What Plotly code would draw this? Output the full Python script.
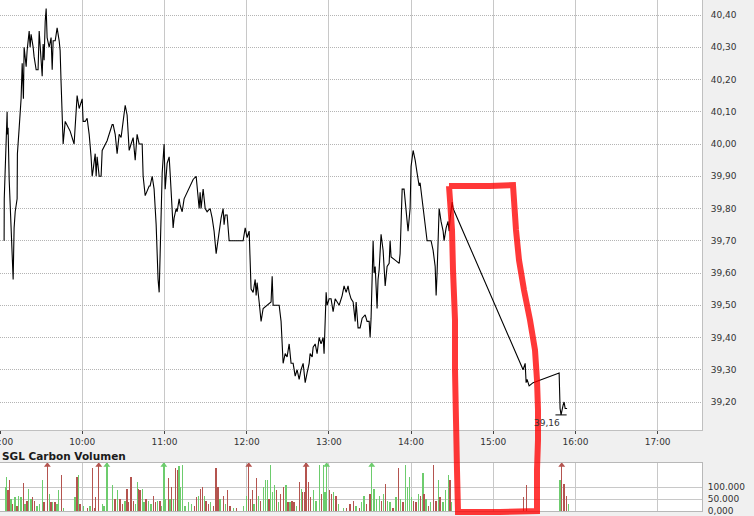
import plotly.graph_objects as go
import pandas as pd

BASE = pd.Timestamp("2024-01-02 09:00")

# ---- price data (minutes after 09:00, price in EUR) ----
price_minutes = [2.9,3.0,5.1,5.3,5.8,6.6,8.0,8.8,9.5,10.2,11.0,12.4,12.6,13.9,15.3,16.1,16.8,17.0,17.5,19.0,
    19.7,21.2,21.9,22.6,24.1,24.8,26.3,27.7,28.5,29.9,30.7,31.4,32.1,32.9,33.6,34.3,35.8,37.2,38.0,38.7,
    40.2,40.9,41.6,43.1,43.8,44.5,45.3,46.0,47.5,51.1,54.0,55.5,56.2,57.7,59.1,59.9,60.6,62.1,63.5,65.0,
    66.4,67.2,67.9,69.4,70.1,70.8,72.3,73.7,74.5,78.1,81.8,82.5,84.0,85.4,86.9,88.3,89.8,91.3,92.7,94.2,
    95.6,97.1,98.6,100.0,101.5,103.7,104.4,105.9,108.8,109.5,111.0,111.7,112.4,113.9,114.6,115.3,116.1,116.8,117.5,118.3,
    119.7,120.5,121.9,123.4,124.1,124.8,126.3,127.0,128.5,129.2,130.7,131.4,132.9,134.3,136.5,138.7,140.9,143.1,143.8,145.3,
    146.0,146.7,148.2,148.9,149.7,151.1,153.3,154.8,156.2,157.7,159.1,159.9,161.3,162.8,163.5,164.3,165.7,167.2,177.4,178.9,
    180.3,181.8,182.5,183.2,184.7,186.2,186.9,187.6,189.1,190.5,192.0,194.9,197.8,198.6,199.3,203.7,205.1,206.6,208.1,209.5,
    211.0,212.4,213.9,215.4,216.8,218.3,219.7,221.2,222.7,224.1,225.6,226.3,227.8,228.5,230.0,231.4,232.9,234.3,235.8,236.5,
    237.3,238.0,238.7,240.2,241.6,243.1,244.6,247.5,249.7,251.1,252.6,254.0,254.8,256.2,257.7,259.2,259.9,261.3,262.8,264.3,
    266.5,267.9,269.4,270.1,270.8,272.3,273.0,273.8,275.2,275.9,276.7,278.1,279.6,280.3,281.1,282.5,284.0,284.7,285.4,288.4,
    291.3,292.0,293.5,294.9,296.4,297.8,299.3,300.0,301.5,303.0,304.4,305.9,306.6,308.1,308.8,310.3,311.7,314.6,316.1,317.6,
    318.3,319.0,320.5,321.9,323.4,324.1,325.6,327.0,327.8,328.5,330.0,330.7,381.8,383.3,384.0,384.7,386.2,389.1,408.1,408.8,
    409.5,411.0,411.7,412.5,413.9]
price_values = [39.70,39.83,40.10,40.03,40.05,39.89,39.74,39.62,39.58,39.74,39.79,39.83,39.97,40.05,40.14,40.25,40.18,40.14,40.30,40.24,
    40.29,40.35,40.30,40.34,40.30,40.27,40.23,40.23,40.35,40.26,40.21,40.31,40.26,40.38,40.42,40.33,40.30,40.33,40.23,40.32,
    40.32,40.34,40.36,40.32,40.29,40.19,40.08,40.00,40.07,40.04,40.00,40.11,40.15,40.11,40.13,40.14,40.07,40.07,40.08,40.03,
    39.96,39.90,39.92,39.97,39.90,39.96,39.90,39.90,39.98,40.01,40.06,40.06,40.03,39.97,40.03,40.02,40.07,40.12,40.09,39.98,
    40.00,40.02,39.95,40.03,40.00,40.00,39.90,39.84,39.87,39.87,39.90,39.88,39.86,39.75,39.63,39.58,39.54,39.69,39.80,39.91,
    40.00,39.86,39.94,39.96,39.91,39.84,39.74,39.77,39.80,39.79,39.83,39.81,39.79,39.83,39.85,39.87,39.89,39.90,39.86,39.80,
    39.85,39.80,39.86,39.83,39.80,39.79,39.80,39.77,39.73,39.66,39.71,39.73,39.77,39.80,39.75,39.78,39.78,39.70,39.70,39.74,
    39.71,39.73,39.65,39.55,39.54,39.58,39.53,39.57,39.51,39.45,39.49,39.50,39.51,39.59,39.50,39.50,39.45,39.32,39.35,39.34,
    39.38,39.32,39.32,39.28,39.30,39.27,39.30,39.32,39.26,39.29,39.32,39.35,39.34,39.37,39.38,39.35,39.40,39.38,39.40,39.35,
    39.49,39.54,39.50,39.52,39.52,39.48,39.52,39.50,39.53,39.56,39.54,39.56,39.54,39.52,39.51,39.45,39.51,39.43,39.43,39.46,
    39.47,39.45,39.45,39.40,39.46,39.70,39.60,39.62,39.49,39.58,39.61,39.72,39.67,39.61,39.56,39.62,39.63,39.70,39.65,39.64,
    39.63,39.66,39.86,39.86,39.79,39.73,39.80,39.93,39.98,39.95,39.91,39.87,39.88,39.83,39.80,39.75,39.70,39.70,39.67,39.62,
    39.53,39.60,39.80,39.76,39.73,39.70,39.74,39.76,39.73,39.77,39.82,39.80,39.30,39.32,39.26,39.27,39.25,39.26,39.29,39.18,
    39.16,39.19,39.20,39.18,39.18]
assert len(price_minutes) == len(price_values), (len(price_minutes), len(price_values))

low_minute = 409.5
low_value = 39.16
low_label = "39,16"

# ---- volume data (minutes after 09:00, shares, 1 = up tick / 0 = down tick) ----
vol_minutes = [3.9,4.6,5.8,6.8,7.8,8.8,10.9,12.2,13.6,15.1,17.0,18.2,19.5,20.9,22.4,23.4,25.3,26.8,28.7,30.9,
    32.1,34.5,36.0,37.0,38.4,40.1,41.4,42.6,44.8,46.2,54.7,56.0,57.4,58.4,60.8,63.7,65.7,67.2,68.9,69.8,
    72.0,74.5,75.9,77.9,82.2,83.9,85.6,87.6,89.5,91.2,92.5,93.7,95.4,97.3,99.0,100.2,101.2,102.2,103.7,105.1,
    106.6,108.5,110.0,111.9,113.4,114.8,116.8,117.8,119.5,120.7,122.9,124.1,125.1,126.5,128.0,129.4,130.7,131.9,133.3,135.0,
    137.5,139.9,141.8,143.5,145.0,146.5,147.9,149.4,150.4,152.1,153.8,155.7,157.7,159.1,160.6,163.0,164.5,165.9,167.9,170.3,
    172.7,177.6,180.0,181.5,182.9,184.4,185.4,187.3,188.8,190.3,192.2,193.7,195.1,196.3,197.6,199.0,200.5,201.9,203.4,204.9,
    206.8,208.8,210.2,211.7,213.1,214.6,216.5,218.5,219.9,220.9,222.4,223.4,225.1,226.8,228.7,230.7,233.1,234.5,236.0,237.2,
    238.4,240.4,242.1,243.3,245.3,247.0,250.6,253.0,255.5,257.9,259.8,262.3,264.0,265.7,267.6,270.1,271.3,273.0,274.9,276.9,
    278.6,279.8,281.3,282.7,284.7,286.7,289.1,290.8,292.5,294.0,295.9,297.4,298.8,300.3,301.7,303.7,305.4,307.1,308.6,309.5,
    311.0,312.7,314.4,316.3,318.3,320.0,321.2,323.2,325.1,327.3,328.5,329.7,382.0,384.5,408.8,410.0,411.7,413.7,414.9]
vol_values = [100000,142900,85700,128600,50000,28600,57100,21400,64300,57100,117100,28600,42900,92900,50000,57100,42900,21400,28600,128600,
    35700,260000,71400,35700,35700,35700,28600,85700,150000,14300,57100,142900,150000,28600,21400,14300,21400,178600,14300,57100,
    260000,28600,21400,260000,107100,50000,85700,50000,28600,42900,92900,35700,142900,42900,28600,121400,92900,85700,92900,35700,
    50000,42900,28600,64300,35700,42900,42900,21400,260000,50000,135700,50000,100000,50000,178600,171400,185700,100000,192900,21400,
    35700,28600,21400,57100,64300,92900,100000,64300,42900,28600,35700,21400,178600,100000,50000,64300,28600,85700,21400,14300,
    14300,21400,64300,260000,50000,85700,28600,135700,64300,42900,100000,128600,128600,50000,192900,78600,107100,85700,35700,71400,
    100000,107100,35700,35700,42900,35700,21400,121400,92900,78600,78600,260000,121400,57100,85700,42900,192900,71400,192900,78600,
    260000,85700,71400,78600,64300,28600,14300,14300,28600,42900,21400,14300,35700,64300,28600,71400,260000,92900,50000,64300,
    42900,71400,114300,42900,35700,14300,57100,178600,50000,35700,192900,100000,142900,57100,42900,35700,71400,64300,157100,71400,
    50000,21400,35700,192900,42900,128600,57100,35700,85700,150000,128600,35700,57100,107100,128600,260000,114300,64300,28600]
vol_up = [1,1,0,0,1,0,1,0,1,1,0,1,0,1,1,0,0,1,1,1,
    0,0,1,0,1,0,1,1,0,1,1,0,1,0,1,0,1,0,0,0,
    0,1,1,1,1,0,1,0,0,1,0,0,0,0,1,1,0,0,1,1,
    0,1,1,0,0,1,0,1,1,1,0,1,0,1,0,0,1,1,1,1,
    1,1,0,0,1,0,0,1,0,0,1,0,0,0,1,0,1,0,0,1,
    0,1,1,0,0,0,1,0,1,0,1,1,1,0,1,1,1,0,1,0,
    0,1,0,1,0,0,1,0,1,0,0,0,0,0,1,1,1,0,1,1,
    1,0,0,1,0,1,1,0,0,0,1,0,1,1,0,0,1,1,1,1,
    0,1,0,1,1,0,1,0,1,0,1,1,1,1,0,0,1,0,1,0,
    1,0,1,0,0,1,0,1,1,1,0,1,0,0,1,0,0,0,1]
assert len(vol_minutes) == len(vol_values) == len(vol_up), (len(vol_minutes), len(vol_values), len(vol_up))

hour_ticks = ["09:00", "10:00", "11:00", "12:00", "13:00", "14:00", "15:00", "16:00", "17:00"]
price_ticks = [39.20, 39.30, 39.40, 39.50, 39.60, 39.70, 39.80, 39.90, 40.00, 40.10, 40.20, 40.30, 40.40]
vol_ticks = [0, 50000, 100000]
vol_tick_text = ["0,000", "50.000", "100.000"]
volume_title = "SGL Carbon Volumen"

# ---- styling ----
W, H = 754, 516
GREEN = "#6dcc6d"
RED = "#b4544f"
GRID = "#c8c8c8"
TXT = "#333333"
FONT = "DejaVu Sans"
VOL_MAX = 200000
X_START_MIN = -0.1
X_END_MIN = 512.4
Y_LO, Y_HI = 39.1132, 40.4465

def to_ts(mins):
    return [BASE + pd.Timedelta(minutes=m) for m in mins]

px_t = to_ts(price_minutes)
vx_t = to_ts(vol_minutes)
xrange = [BASE + pd.Timedelta(minutes=X_START_MIN), BASE + pd.Timedelta(minutes=X_END_MIN)]
hour_vals = [pd.Timestamp(f"2024-01-02 {h}") for h in hour_ticks]

fig = go.Figure()
fig.add_trace(go.Scatter(x=px_t, y=price_values, mode="lines",
                         line=dict(color="#000000", width=1.1), xaxis="x", yaxis="y",
                         hoverinfo="skip"))
low_t = BASE + pd.Timedelta(minutes=low_minute)
fig.add_trace(go.Scatter(x=[low_t], y=[low_value], mode="markers",
                         marker=dict(symbol="line-ew", size=8, line=dict(color="#000", width=1)),
                         xaxis="x", yaxis="y", cliponaxis=False))

colors = [GREEN if u else RED for u in vol_up]
fig.add_trace(go.Bar(x=vx_t, y=vol_values, marker=dict(color=colors, line=dict(width=0)),
                     width=60000, xaxis="x2", yaxis="y2"))
over_x = [t for t, v in zip(vx_t, vol_values) if v > VOL_MAX]
over_c = [c for c, v in zip(colors, vol_values) if v > VOL_MAX]
fig.add_trace(go.Scatter(x=over_x, y=[VOL_MAX * 0.955] * len(over_x), mode="markers",
                         marker=dict(symbol="triangle-up", size=6, color=over_c),
                         xaxis="x2", yaxis="y2", cliponaxis=False))

xdom = [0, 702 / W]
fig.update_layout(
    width=W, height=H, margin=dict(l=0, r=0, t=0, b=0, autoexpand=False),
    paper_bgcolor="#f0f0f0", plot_bgcolor="#ffffff",
    showlegend=False, separators=",.",
    font=dict(family=FONT, size=9, color=TXT),
    bargap=0,
    xaxis=dict(domain=xdom, type="date", range=xrange, anchor="y", automargin=False,
               tickvals=hour_vals, tickformat="%H:%M", ticklabeloverflow="allow",
               showgrid=True, gridcolor=GRID, gridwidth=1,
               ticks="outside", ticklen=3, tickcolor="#444", showline=True, linecolor="#c0c0c0",
               zeroline=False, tickfont=dict(size=9, color=TXT, family=FONT)),
    yaxis=dict(domain=[86 / H, 1], range=[Y_LO, Y_HI], side="right", anchor="x", automargin=False,
               tickvals=price_ticks, tickformat=".2f", showgrid=True, gridcolor="#b4b4b4",
               griddash="1px,1px", gridwidth=1, ticks="", ticklabelstandoff=6,
               ticklabeloverflow="allow",
               showline=True, linecolor="#c0c0c0", zeroline=False,
               tickfont=dict(size=9, color=TXT, family=FONT)),
    xaxis2=dict(domain=xdom, type="date", range=xrange, anchor="y2", matches="x", automargin=False,
                tickvals=hour_vals, showticklabels=False, showgrid=True, gridcolor=GRID, ticks="",
                showline=True, linecolor="#b8b8b8", mirror=True, zeroline=False),
    yaxis2=dict(domain=[5 / H, 53 / H], range=[0, VOL_MAX], side="right", anchor="x2", automargin=False,
                tickvals=vol_ticks, ticktext=vol_tick_text, showgrid=True, gridcolor=GRID,
                ticks="", ticklabelstandoff=3, ticklabeloverflow="allow",
                showline=True, linecolor="#b8b8b8", mirror=True,
                zeroline=False, tickfont=dict(size=9, color=TXT, family=FONT)),
)

fig.add_annotation(x=0, y=1 - 456 / H, xref="paper", yref="paper", text="<b>" + volume_title + "</b>",
                   showarrow=False, xanchor="left", yanchor="middle",
                   font=dict(family=FONT, size=10.5, color="#1a1a1a"))
fig.add_annotation(x=low_t, y=low_value, xref="x", yref="y", text=low_label, showarrow=False,
                   xanchor="right", yanchor="top", yshift=-1, xshift=1,
                   font=dict(family=FONT, size=9, color=TXT))

# hand-drawn red marking (overlay, in pixel positions of the picture)
RED_MARK_PX = [(449, 186), (470, 186), (490, 186), (513, 185), (514, 200), (516, 230), (519, 260),
               (524, 290), (530, 320), (535, 350), (537, 380), (538, 410), (538, 440), (537, 470),
               (537, 511), (500, 512), (458, 512), (457, 470), (456, 420), (455, 370), (455, 320),
               (453, 270), (452, 230), (450, 200), (449, 186)]
path = "M " + " L ".join(f"{x / W:.5f},{1 - y / H:.5f}" for x, y in RED_MARK_PX)
fig.add_shape(type="path", path=path, xref="paper", yref="paper",
              line=dict(color="rgba(255,0,0,0.78)", width=6))

fig.write_html("out.html", config={"displayModeBar": False, "staticPlot": True})
with open("out.html", "r", encoding="utf-8") as f:
    html = f.read()
html = html.replace("<body>", '<body style="margin:0;padding:0;overflow:hidden;">', 1)
with open("out.html", "w", encoding="utf-8") as f:
    f.write(html)
